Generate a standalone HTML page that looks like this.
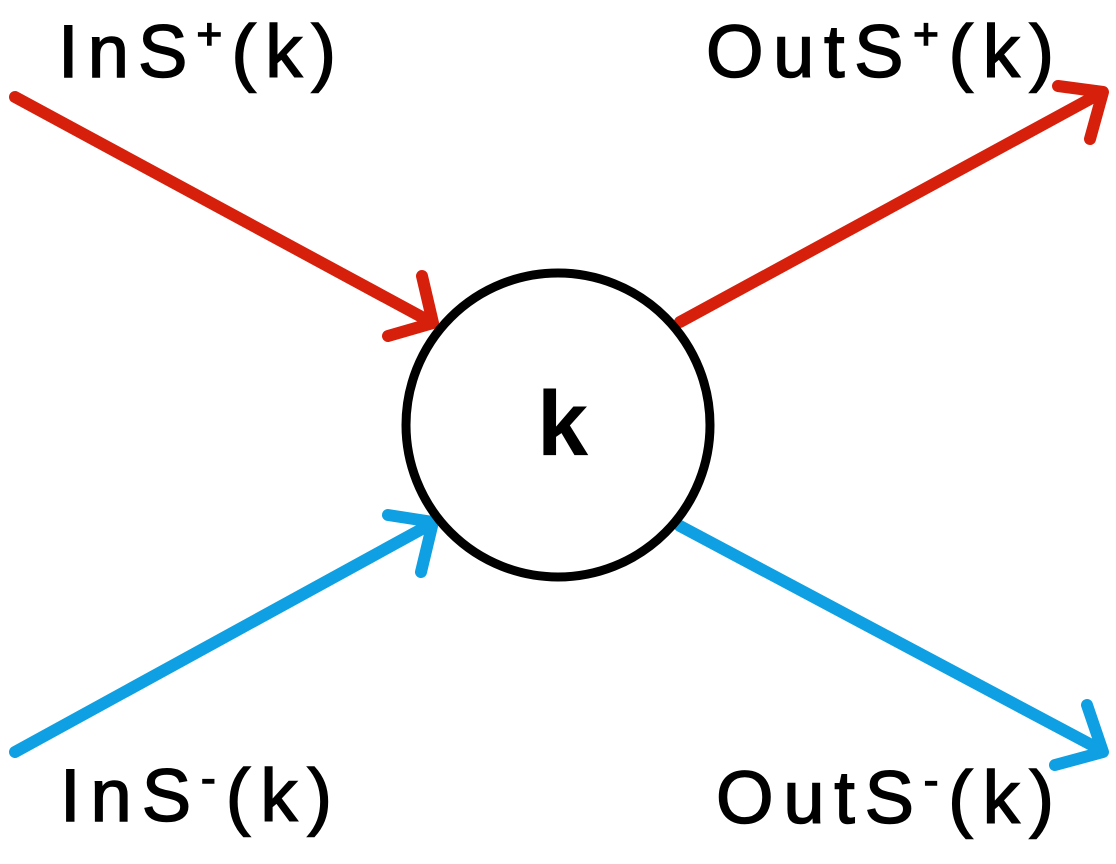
<!DOCTYPE html>
<html><head><meta charset="utf-8"><style>html,body{margin:0;padding:0;background:#fff}svg{display:block}</style></head>
<body>
<svg width="1116" height="864" viewBox="0 0 1116 864" xmlns="http://www.w3.org/2000/svg">
<g fill="none" stroke-width="12" stroke-linecap="round" stroke-linejoin="round">
<g stroke="#d7200c">
<line x1="15" y1="97" x2="431" y2="322"/>
<polyline points="422,276 433,323 388,336"/>
<line x1="680" y1="322" x2="1101" y2="93"/>
<polyline points="1058,86 1103,92 1090,139"/>
</g>
<g stroke="#0ea0e2">
<line x1="15" y1="752" x2="431" y2="524"/>
<polyline points="388,515 433,522 421,572"/>
<line x1="680" y1="526" x2="1101" y2="750"/>
<polyline points="1087,705 1103,752 1055,765"/>
</g>
</g>
<circle cx="558" cy="425" r="152" fill="none" stroke="#000" stroke-width="9"/>
<g font-family="Liberation Sans, sans-serif" fill="#000" stroke="#000" stroke-width="1.5">
<text x="537" y="455" font-size="92" font-weight="bold" stroke-width="0">k</text>
<text x="58" y="77" font-size="74" textLength="278" lengthAdjust="spacing">InS<tspan font-size="44" dy="-28">+</tspan><tspan dy="28">(k)</tspan></text>
<text x="706" y="77" font-size="74" textLength="348" lengthAdjust="spacing">OutS<tspan font-size="44" dy="-28">+</tspan><tspan dy="28">(k)</tspan></text>
<text x="60" y="821" font-size="74" textLength="272" lengthAdjust="spacing">InS<tspan font-size="44" dy="-28">-</tspan><tspan dy="28">(k)</tspan></text>
<text x="716" y="823" font-size="74" textLength="338" lengthAdjust="spacing">OutS<tspan font-size="44" dy="-28">-</tspan><tspan dy="28">(k)</tspan></text>
</g>
</svg>
</body></html>
